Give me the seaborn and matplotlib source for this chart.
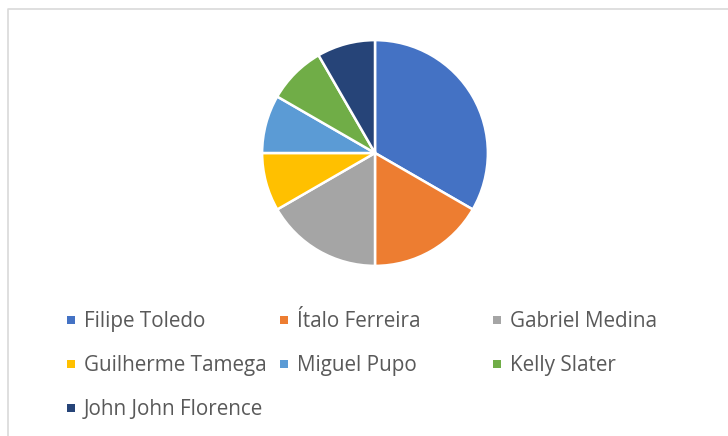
import matplotlib
matplotlib.use('Agg')
import matplotlib.pyplot as plt
import seaborn as sns
from matplotlib.lines import Line2D

surfers = ['Filipe Toledo', 'Ítalo Ferreira', 'Gabriel Medina', 'Guilherme Tamega',
           'Miguel Pupo', 'Kelly Slater', 'John John Florence']
titles = [4, 2, 2, 1, 1, 1, 1]
colors = ['#4472C4', '#ED7D31', '#A5A5A5', '#FFC000', '#5B9BD5', '#70AD47', '#264478']

sns.set_style('white')
plt.rcParams['font.family'] = ['Open Sans', 'DejaVu Sans']

W, H = 728, 436
fig = plt.figure(figsize=(W / 100, H / 100), dpi=100)

# overlay axes in pixel coordinates for the frame and the legend
ov = fig.add_axes([0, 0, 1, 1])
ov.set_xlim(0, W)
ov.set_ylim(H, 0)
ov.axis('off')
ov.add_line(Line2D([8, 8, W], [H, 9, 9], color='#d9d9d9', lw=1.2))

cx, cy, r = 375, 153, 114
ax = fig.add_axes([(cx - r) / W, 1 - (cy + r) / H, 2 * r / W, 2 * r / H])
ax.pie(titles, colors=colors, startangle=90, counterclock=False, radius=1,
       wedgeprops=dict(edgecolor='white', linewidth=1.8))
ax.set_xlim(-1.01, 1.01)
ax.set_ylim(-1.01, 1.01)
ax.set_aspect('auto')
ax.axis('off')

# legend: 3 columns, row-major like the original
col_x = [71, 284, 497]
row_y = [320, 364, 408]
for i, name in enumerate(surfers):
    x = col_x[i % 3]
    y = row_y[i // 3]
    ov.scatter([x], [y], marker='s', s=30, color=colors[i], linewidths=0)
    ov.text(x + 13, y + 7, name, fontsize=14.9, color='#595959',
            ha='left', va='baseline')

fig.savefig('out.png', dpi=100)
